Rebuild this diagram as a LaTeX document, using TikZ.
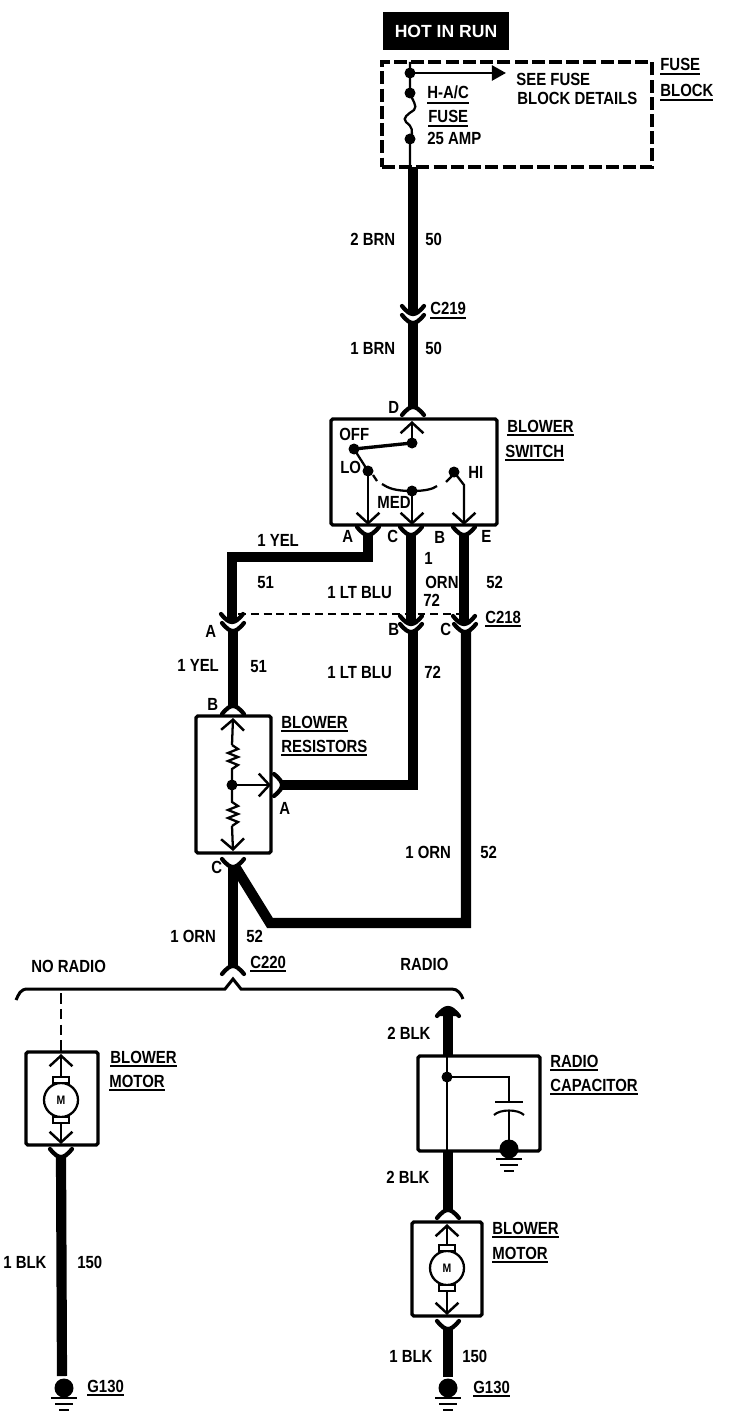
\documentclass[tikz,border=0pt]{standalone}
\usepackage{fontspec}
\setmainfont{Liberation Sans}[FakeStretch=0.85]
\newfontfamily\hotfont{Liberation Sans}
\usetikzlibrary{arrows.meta}
\newcommand{\ulab}[1]{\vtop{\hbox{#1}\kern1.3pt\hrule height 1.1pt}}
\tikzset{
  lab/.style={anchor=base west,font=\fontsize{10}{12}\selectfont\bfseries},
  box/.style={draw,line width=1.9pt,rounded corners=1pt},
  fuseblock/.style={draw,line width=2.2pt,dash pattern=on 7.4pt off 2.4pt},
  hotbox/.style={fill=black,text=white,font=\hotfont\fontsize{10}{12}\selectfont\bfseries},
  wire/.style={line width=5.8pt,line join=miter},
  thin wire/.style={line width=1.3pt},
  barb/.style={-{Straight Barb[length=6pt,width=13pt,line width=1.4pt]}},
  cross/.style={line width=0.9pt,dash pattern=on 4.5pt off 2.8pt},
  dot/.pic={\fill (0,0) circle (5.5);},
  cup/.pic={\draw[line width=2.4pt,line cap=round] (-11,1) .. controls (-6,-5) and (-3,-7) .. (0,-7) .. controls (3,-7) and (6,-5) .. (11,1);},
  gnd/.pic={
    \fill (0,0) circle (9.5);
    \draw[line width=1.5pt] (-13,-10) -- (13,-10);
    \draw[line width=1.5pt] (-9,-16) -- (9,-16);
    \draw[line width=1.5pt] (-5,-22) -- (5,-22);
  },
  motor/.pic={
    \draw[line width=1.3pt] (0,0) circle (17);
    \draw[line width=1.2pt,fill=white] (-8,17) rectangle (8,23);
    \draw[line width=1.2pt,fill=white] (-8,-17) rectangle (8,-23);
    \node[font=\fontsize{7}{8}\selectfont\bfseries] (-m) at (0,0) {M};
  }
}
\begin{document}
\begin{tikzpicture}[x=0.02cm,y=0.02cm]
\tikzstyle{every node}+=[inner sep=0pt]
\useasboundingbox (0,0) rectangle (752,-1412);
% boxes
\node[hotbox,minimum width=2.52cm,minimum height=0.76cm] (hot) at (446,-31) {HOT IN RUN};
\node[fuseblock,minimum width=5.40cm,minimum height=2.10cm] (fb) at (517,-114.5) {};
\node[box,minimum width=3.32cm,minimum height=2.12cm] (sw) at (414,-472) {};
\node[box,minimum width=1.50cm,minimum height=2.74cm] (res) at (233.5,-784.5) {};
\node[box,minimum width=1.44cm,minimum height=1.86cm] (motL) at (62,-1098.5) {};
\node[box,minimum width=2.44cm,minimum height=1.90cm] (cap) at (479,-1103.5) {};
\node[box,minimum width=1.40cm,minimum height=1.88cm] (motR) at (447,-1269) {};
% fuse block
\coordinate (fIn) at (410,-62);
\coordinate (fSee) at (410,-73);
\coordinate (fTop) at (410,-93);
\coordinate (fBot) at (410,-139);
\coordinate (fOut) at (410,-167);
\coordinate (fArrow) at (506,-73);
\coordinate (brnTop) at (413,-167);
\coordinate (brnEnd) at (413,-313);
\draw[thin wire] (fIn) -- (fTop) .. controls (412,-100) and (418,-106) .. (414,-110) .. controls (408,-114) and (402,-118) .. (406,-122) .. controls (412,-126) and (414,-132) .. (fBot) -- (fOut);
\draw[line width=1.5pt,-{Triangle[length=8pt,width=8.5pt]}] (fSee) -- (fArrow);
\pic at (fSee) {dot};
\pic at (fTop) {dot};
\pic at (fBot) {dot};
% brown wire
\coordinate (c219a) at (413,-307);
\coordinate (c219b) at (413,-316);
\coordinate (swD) at (413,-414);
\draw[wire] (brnTop) -- (brnEnd);
\draw[wire] (413,-322) -- (413,-408);
\pic at (c219a) {cup};
\pic at (c219b) {cup};
\pic[rotate=180] at (swD) {cup};
% switch
\coordinate (wipe) at (412,-443);
\coordinate (wipeTop) at (412,-421);
\coordinate (off) at (354,-449);
\coordinate (lo) at (368,-471);
\coordinate (med) at (412,-491);
\coordinate (hi) at (454,-472);
\coordinate (pinA) at (368,-525);
\coordinate (pinC) at (412,-525);
\coordinate (pinE) at (464,-525);
\draw[thin wire,barb] (wipe) -- (wipeTop);
\draw[line width=1.9pt] (off) -- (wipe);
\draw[thin wire] (off) -- (lo);
\draw[thin wire,barb] (lo) -- (pinA);
\draw[thin wire,barb] (med) -- (pinC);
\draw[thin wire,barb] (hi) -- (464,-485) -- (pinE);
\draw[thin wire] (373,-475) -- (377,-481);
\draw[thin wire] (382,-484) .. controls (388,-488) and (395,-491) .. (med) .. controls (425,-491) and (433,-489) .. (437,-486);
\draw[thin wire] (446,-482) -- (453,-475);
\pic at (wipe) {dot};
\pic at (off) {dot};
\pic at (lo) {dot};
\pic at (med) {dot};
\pic at (hi) {dot};
% dashed tie of C218
\coordinate (tieL) at (238,-614);
\coordinate (tieR) at (460,-614);
\draw[cross] (tieL) -- (tieR);
% yellow wire
\coordinate (a1) at (368,-528);
\coordinate (a2) at (232,-615);
\coordinate (a3) at (233,-624);
\coordinate (resB) at (233,-713);
\draw[wire] (368,-534) -- (368,-557) -- (232,-557) -- (232,-621);
\draw[wire] (233,-630) -- (233,-707);
\pic at (a1) {cup};
\pic at (a2) {cup};
\pic at (a3) {cup};
\pic[rotate=180] at (resB) {cup};
% light blue wire
\coordinate (c1) at (411,-528);
\coordinate (c2) at (411,-617);
\coordinate (c3) at (411,-625);
\coordinate (resA) at (275,-785);
\draw[wire] (c1) ++(0,-6) -- (411,-623);
\draw[wire] (413,-631) -- (413,-785) -- (281,-785);
\pic at (c1) {cup};
\pic at (c2) {cup};
\pic at (c3) {cup};
\pic[rotate=90] at (resA) {cup};
% orange wire
\coordinate (e1) at (464,-528);
\coordinate (e2) at (464,-617);
\coordinate (e3) at (465,-625);
\coordinate (resC) at (233,-860);
\coordinate (c220) at (233,-973);
\draw[wire] (e1) ++(0,-6) -- (464,-623);
\draw[wire] (466,-631) -- (466,-923) -- (270,-923) -- (236,-868);
\draw[wire] (233,-866) -- (233,-967);
\pic at (e1) {cup};
\pic at (e2) {cup};
\pic at (e3) {cup};
\pic at (resC) {cup};
\pic[rotate=180] at (c220) {cup};
% resistors
\coordinate (rTop) at (233,-718);
\coordinate (rMid) at (232,-785);
\coordinate (rBot) at (233,-851);
\coordinate (rOut) at (271,-785);
\draw[thin wire,barb] (232,-745) -- (rTop);
\draw[thin wire] (232,-745) -- (238,-749) -- (228,-753) -- (238,-757) -- (228,-761) -- (238,-765) -- (232,-769) -- (rMid) -- (232,-802) -- (238,-806) -- (228,-810) -- (238,-814) -- (228,-818) -- (238,-822) -- (232,-826);
\draw[thin wire,barb] (232,-826) -- (rBot);
\draw[thin wire,barb] (rMid) -- (rOut);
\pic at (rMid) {dot};
% brace
\coordinate (brL) at (16,-1000);
\coordinate (brR) at (463,-999);
\draw[line width=1.7pt] (brL) .. controls (19,-994) and (20,-989) .. (28,-989) -- (225,-989) -- (233,-979) -- (241,-989) -- (452,-989) .. controls (458,-989) and (461,-994) .. (brR);
% no radio branch
\coordinate (dashTop) at (61,-993);
\coordinate (dashBot) at (61,-1052);
\coordinate (mLtop) at (61,-1054);
\coordinate (mLbot) at (61,-1144);
\coordinate (mLc) at (61,-1100);
\coordinate (mLcup) at (61,-1150);
\coordinate (gndL) at (64,-1388);
\draw[line width=1.1pt,dash pattern=on 6pt off 3pt] (dashTop) -- (dashBot);
\draw[thin wire,barb] (61,-1077) -- (mLtop);
\draw[thin wire,barb] (61,-1123) -- (mLbot);
\pic (mL) at (mLc) {motor};
\pic at (mLcup) {cup};
\draw[wire] (61,-1156) -- (62,-1376);
\pic at (gndL) {gnd};
% radio branch
\coordinate (capIn) at (448,-1015);
\coordinate (capDot) at (447,-1077);
\coordinate (capMid) at (509,-1077);
\coordinate (plate) at (509,-1102);
\coordinate (gndC) at (509,-1149);
\coordinate (mRcup) at (448,-1217);
\coordinate (mRc) at (447,-1268);
\coordinate (mRtop) at (447,-1224);
\coordinate (mRbot) at (447,-1315);
\coordinate (mRout) at (448,-1322);
\coordinate (gndR) at (448,-1388);
\draw[wire] (448,-1010) -- (448,-1056);
\fill (437,-1016) .. controls (440,-1006) and (456,-1006) .. (459,-1016) -- cycle;
\pic[rotate=180] at (capIn) {cup};
\draw[thin wire] (447,-1056) -- (447,-1151);
\draw[thin wire] (capDot) -- (capMid) -- (plate);
\draw[line width=1.2pt] (495,-1102) -- (523,-1102);
\draw[line width=1.2pt] (494,-1115) .. controls (500,-1109) and (518,-1109) .. (524,-1115);
\draw[thin wire] (509,-1110) -- (gndC);
\pic at (capDot) {dot};
\pic at (gndC) {gnd};
\draw[wire] (448,-1151) -- (448,-1211);
\pic[rotate=180] at (mRcup) {cup};
\draw[thin wire,barb] (447,-1245) -- (mRtop);
\draw[thin wire,barb] (447,-1291) -- (mRbot);
\pic (mR) at (mRc) {motor};
\pic at (mRout) {cup};
\draw[wire] (448,-1328) -- (448,-1377);
\pic at (gndR) {gnd};
% labels
\node[lab] (t01) at (516,-86) {SEE FUSE};
\node[lab] (t02) at (517,-105) {BLOCK DETAILS};
\node[lab] (t03) at (427,-99) {\ulab{H-A/C}};
\node[lab] (t04) at (428,-123) {\ulab{FUSE}};
\node[lab] (t05) at (427,-145) {25 AMP};
\node[lab] (t06) at (660,-71) {\ulab{FUSE}};
\node[lab] (t07) at (660,-97) {\ulab{BLOCK}};
\node[lab] (t08) at (350,-246) {2 BRN};
\node[lab] (t09) at (425,-246) {50};
\node[lab] (t10) at (430,-315) {\ulab{C219}};
\node[lab] (t11) at (350,-355) {1 BRN};
\node[lab] (t12) at (425,-355) {50};
\node[lab] (t13) at (388,-413) {D};
\node[lab] (t14) at (507,-432) {\ulab{BLOWER}};
\node[lab] (t15) at (505,-457) {\ulab{SWITCH}};
\node[lab] (t16) at (339,-440) {OFF};
\node[lab] (t17) at (340,-473) {LO};
\node[lab] (t18) at (468,-478) {HI};
\node[lab] (t19) at (377,-508) {MED};
\node[lab] (t20) at (342,-542) {A};
\node[lab] (t21) at (387,-542) {C};
\node[lab] (t22) at (434,-543) {B};
\node[lab] (t23) at (481,-542) {E};
\node[lab] (t24) at (257,-546) {1 YEL};
\node[lab] (t25) at (424,-564) {1};
\node[lab] (t26) at (257,-588) {51};
\node[lab] (t27) at (425,-588) {ORN};
\node[lab] (t28) at (486,-588) {52};
\node[lab] (t29) at (327,-598) {1 LT BLU};
\node[lab] (t30) at (423,-606) {72};
\node[lab] (t31) at (485,-623) {\ulab{C218}};
\node[lab] (t32) at (205,-637) {A};
\node[lab] (t33) at (388,-635) {B};
\node[lab] (t34) at (440,-635) {C};
\node[lab] (t35) at (177,-671) {1 YEL};
\node[lab] (t36) at (250,-672) {51};
\node[lab] (t37) at (327,-678) {1 LT BLU};
\node[lab] (t38) at (424,-678) {72};
\node[lab] (t39) at (207,-710) {B};
\node[lab] (t40) at (281,-728) {\ulab{BLOWER}};
\node[lab] (t41) at (281,-752) {\ulab{RESISTORS}};
\node[lab] (t42) at (279,-814) {A};
\node[lab] (t43) at (405,-858) {1 ORN};
\node[lab] (t44) at (480,-858) {52};
\node[lab] (t45) at (211,-873) {C};
\node[lab] (t46) at (170,-942) {1 ORN};
\node[lab] (t47) at (246,-942) {52};
\node[lab] (t48) at (250,-968) {\ulab{C220}};
\node[lab] (t49) at (31,-972) {NO RADIO};
\node[lab] (t50) at (400,-970) {RADIO};
\node[lab] (t51) at (387,-1039) {2 BLK};
\node[lab] (t52) at (110,-1063) {\ulab{BLOWER}};
\node[lab] (t53) at (109,-1087) {\ulab{MOTOR}};
\node[lab] (t54) at (550,-1067) {\ulab{RADIO}};
\node[lab] (t55) at (550,-1091) {\ulab{CAPACITOR}};
\node[lab] (t56) at (386,-1183) {2 BLK};
\node[lab] (t57) at (492,-1234) {\ulab{BLOWER}};
\node[lab] (t58) at (492,-1259) {\ulab{MOTOR}};
\node[lab] (t59) at (3,-1268) {1 BLK};
\node[lab] (t60) at (77,-1268) {150};
\node[lab] (t61) at (389,-1362) {1 BLK};
\node[lab] (t62) at (462,-1362) {150};
\node[lab] (t63) at (87,-1392) {\ulab{G130}};
\node[lab] (t64) at (473,-1393) {\ulab{G130}};
\end{tikzpicture}
\end{document}
